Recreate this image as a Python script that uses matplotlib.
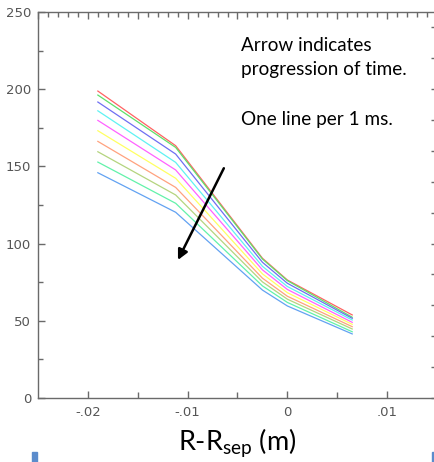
import matplotlib
matplotlib.use("Agg")
import matplotlib.pyplot as plt
from matplotlib.ticker import FixedLocator, MultipleLocator, NullFormatter

plt.rcParams["mathtext.fontset"] = "custom"
plt.rcParams["mathtext.rm"] = "Lato"
plt.rcParams["mathtext.it"] = "Lato:italic"

# Radial positions relative to the separatrix (m)
r_rel = [-0.019, -0.0112, -0.0025, 0.0, 0.0065]

# One profile per ms, earliest first
profiles = [
    [198.8, 163.4, 90.5, 76.4, 53.8],
    [196.2, 162.3, 90.0, 76.0, 52.3],
    [191.7, 158.0, 87.9, 74.3, 51.6],
    [186.0, 152.6, 85.3, 72.2, 50.5],
    [179.8, 147.7, 83.0, 70.3, 49.0],
    [173.1, 142.3, 80.4, 68.2, 47.7],
    [166.2, 136.4, 77.6, 65.9, 46.2],
    [159.5, 131.5, 75.2, 64.0, 44.7],
    [152.8, 126.1, 72.6, 61.9, 42.9],
    [145.9, 120.3, 69.9, 59.6, 41.5],
]
line_colors = ["#ff6262", "#5fe06a", "#6f6ff2", "#5ff2f2", "#ff62ff",
               "#ffff62", "#ffa27e", "#b4d47e", "#62f2aa", "#62a2f2"]

x_ticks = [-0.02, -0.01, 0.0, 0.01]
x_tick_labels = ["-.02", "-.01", "0", ".01"]
y_ticks = [0, 50, 100, 150, 200, 250]
y_tick_labels = ["0", "50", "100", "150", "200", "250"]

note_lines = ["Arrow indicates", "progression of time.", "One line per 1 ms."]

W, H = 435, 462
fig = plt.figure(figsize=(W / 100, H / 100), dpi=100)
ax = fig.add_axes([38 / W, 64 / H, 399 / W, 386 / H])

for vals, c in zip(profiles, line_colors):
    ax.plot(r_rel, vals, color=c, lw=0.9, solid_joinstyle="round")

ax.set_xlim(-0.025, 0.015)
ax.set_ylim(0, 250)

axis_grey = "#6a6a6a"
for side in ("left", "bottom", "top"):
    ax.spines[side].set_color(axis_grey)
    ax.spines[side].set_linewidth(1.0)
ax.spines["right"].set_visible(False)

ax.xaxis.set_major_locator(FixedLocator(x_ticks))
ax.set_xticklabels(x_tick_labels)
ax.xaxis.set_minor_locator(FixedLocator([-0.015, -0.005, 0.005]))
ax.yaxis.set_major_locator(FixedLocator(y_ticks))
ax.set_yticklabels(y_tick_labels)
ax.yaxis.set_minor_locator(MultipleLocator(25))

ax.tick_params(axis="both", which="both", direction="in", colors=axis_grey,
               labelcolor="#555555", labelsize=9.5, width=1.0)
ax.tick_params(axis="x", which="major", length=5, pad=6)
ax.tick_params(axis="x", which="minor", length=4)
ax.tick_params(axis="y", which="major", length=5, pad=5)
ax.tick_params(axis="y", which="minor", length=3.5)

# Top scale: fine ticks every 0.001, longer every 0.005
top = ax.secondary_xaxis("top")
top.xaxis.set_major_locator(MultipleLocator(0.005))
top.xaxis.set_minor_locator(MultipleLocator(0.001))
top.xaxis.set_major_formatter(NullFormatter())
top.spines["top"].set_visible(False)
top.tick_params(which="both", direction="in", colors=axis_grey, width=1.0)
top.tick_params(which="major", length=5)
top.tick_params(which="minor", length=3.5)

# Right scale: ticks every 10, longer every 20
right = ax.secondary_yaxis("right")
right.yaxis.set_major_locator(MultipleLocator(20))
right.yaxis.set_minor_locator(MultipleLocator(10))
right.yaxis.set_major_formatter(NullFormatter())
right.spines["right"].set_visible(False)
right.tick_params(which="both", direction="in", colors=axis_grey, width=1.0)
right.tick_params(which="major", length=4)
right.tick_params(which="minor", length=2)

# Time-progression arrow
ax.annotate("", xy=(-0.01097, 89.4), xytext=(-0.00637, 148.8),
            arrowprops=dict(arrowstyle="-|>", color="black", lw=1.8,
                            mutation_scale=15, shrinkA=0, shrinkB=0))

# Note text, one baseline per line
for txt, base_y in zip(note_lines, [50.7, 74.5, 125.0]):
    fig.text(241.5 / W, 1 - base_y / H, txt, fontfamily="Lato",
             fontsize=13.6, color="black", ha="left", va="baseline")

fig.text(237 / W, 1 - 450 / H, r"R-R$_{\mathrm{sep}}$ (m)",
         fontfamily="Lato", fontsize=19.5, color="black",
         ha="center", va="baseline")

# Slide fragments along the lower edge
bar_color = "#5b8ccc"
fig.patches.append(plt.Rectangle((32.3 / W, 0), 5 / W, 10.5 / H,
                                 transform=fig.transFigure, color=bar_color))
fig.patches.append(plt.Rectangle((432.3 / W, 0), 3 / W, 10.5 / H,
                                 transform=fig.transFigure, color=bar_color))

fig.savefig("out.png", dpi=100)
